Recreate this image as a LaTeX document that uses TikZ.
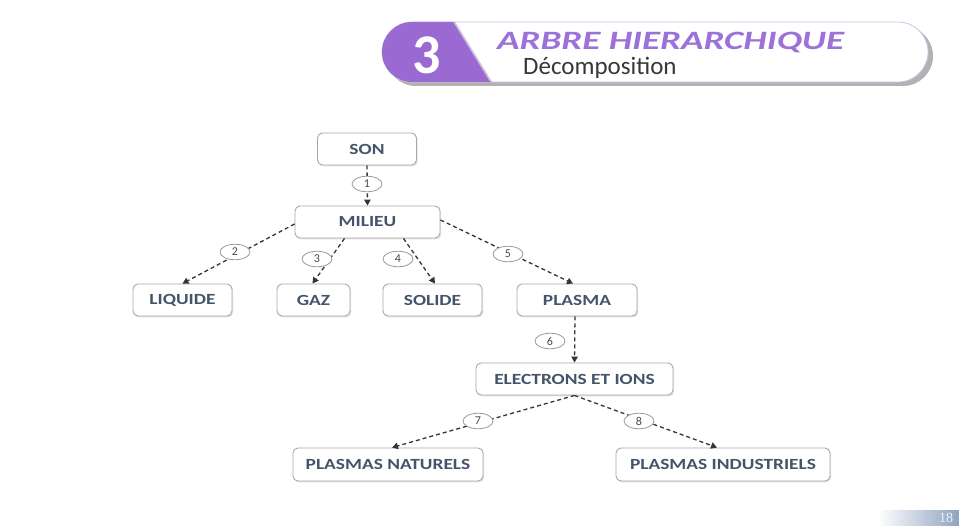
\documentclass[tikz,border=0pt]{standalone}
\usepackage{fontspec}
\setmainfont{Carlito}
\newfontfamily\pgnumfont{Liberation Serif}
\usetikzlibrary{arrows.meta,shapes.geometric,shadows,calc}
\definecolor{boxgray}{HTML}{A8A8A8}
\definecolor{txtblue}{HTML}{44546A}
\definecolor{lblgray}{HTML}{9A9A9A}
\definecolor{lbltext}{HTML}{4A4A4A}
\definecolor{arrgray}{HTML}{353535}
\definecolor{bannerpurple}{HTML}{9A6AD2}
\definecolor{titlepurple}{HTML}{9C72D8}
\definecolor{lavender}{HTML}{CFC3E6}
\definecolor{stripblue}{HTML}{8EA3C0}
\newcommand\wtxt[1]{\scalebox{1.25}[1]{#1}}
\tikzset{
  box/.style={draw=boxgray, line width=0.9pt, rounded corners=5pt, fill=white,
    minimum height=32pt, inner sep=0pt, text=txtblue,
    font=\fontsize{15.5}{18}\selectfont\bfseries,
    drop shadow={shadow xshift=1.2pt, shadow yshift=-1.5pt, opacity=0.22}},
  lbl/.style={ellipse, draw=lblgray, line width=0.8pt, fill=white,
    minimum width=30pt, minimum height=15.5pt, inner sep=0pt, text=lbltext,
    font=\fontsize{12}{12}\selectfont},
  arr/.style={draw=arrgray, line width=1.3pt, dash pattern=on 4pt off 3pt,
    -{Triangle[length=6pt,width=6.5pt]}},
}
\begin{document}
\begin{tikzpicture}[x=1pt,y=-1pt]
\useasboundingbox (0,0) rectangle (959,526);
\fill[white] (0,0) rectangle (959,526);

% ---- banner ----
\fill[black!30, rounded corners=30pt] (386,26) rectangle (933,86);
\filldraw[fill=white, draw=lavender, line width=0.8pt, rounded corners=30pt] (382,22) rectangle (928,82);
\begin{scope}
  \clip[rounded corners=30pt] (382,22) rectangle (928,82);
  \fill[bannerpurple] (370,15) -- (448.7,15) -- (494.9,90) -- (370,90) -- cycle;
  \draw[bannerpurple!70!black, opacity=0.35, line width=2pt] (449.7,15) -- (495.9,90);
\end{scope}
\node[text=white, inner sep=0pt, font=\fontsize{56}{58}\selectfont\bfseries] (num) at (427,55) {3};
\node[anchor=base west, inner sep=0pt, text=titlepurple,
  font=\fontsize{26.5}{28}\selectfont\bfseries\itshape] (title) at (497,50)
  {\scalebox{1.40}[1]{ARBRE HIERARCHIQUE}};
\node[anchor=base west, inner sep=0pt, text=black!78,
  font=\fontsize{25}{27}\selectfont] (sub) at (523,75) {Décomposition};

% ---- nodes ----
\node[box, minimum width=99pt]  (son)     at (367,149)   {\wtxt{SON}};
\node[box, minimum width=145pt] (milieu)  at (367.5,222) {\wtxt{MILIEU}};
\node[box, minimum width=99pt]  (liquide) at (182.5,300) {\wtxt{LIQUIDE}};
\node[box, minimum width=73pt]  (gaz)     at (313.5,300) {\wtxt{GAZ}};
\node[box, minimum width=99pt]  (solide)  at (432.5,300) {\wtxt{SOLIDE}};
\node[box, minimum width=120pt] (plasma)  at (577,300)   {\wtxt{PLASMA}};
\node[box, minimum width=197pt] (elec)    at (574.5,379) {\wtxt{ELECTRONS ET IONS}};
\node[box, minimum width=190pt, minimum height=33pt] (nat) at (388,464.5) {\wtxt{PLASMAS NATURELS}};
\node[box, minimum width=214pt, minimum height=33pt] (ind) at (723,464.5) {\wtxt{PLASMAS INDUSTRIELS}};

% ---- connectors ----
\draw[arr] (son.south) -- (milieu.north);
\draw[arr] ([yshift=-2pt]milieu.west) -- (liquide.north);
\draw[arr] ([xshift=-23pt]milieu.south) -- ([xshift=-1pt]gaz.north);
\draw[arr] ([xshift=36pt]milieu.south) -- ([xshift=2.5pt]solide.north);
\draw[arr] ([yshift=2pt]milieu.east) -- ([xshift=-4pt]plasma.north);
\draw[arr] ([xshift=-2pt]plasma.south) -- (elec.north);
\draw[arr] (elec.south) -- ([xshift=4pt]nat.north);
\draw[arr] (elec.south) -- ([xshift=-6pt]ind.north);

% ---- labels ----
\node[lbl] (l1) at (367,184) {1};
\node[lbl] (l2) at (235,252) {2};
\node[lbl] (l3) at (317,259) {3};
\node[lbl] (l4) at (398,259) {4};
\node[lbl] (l5) at (508,254) {5};
\node[lbl] (l6) at (550,341) {6};
\node[lbl] (l7) at (478,421) {7};
\node[lbl] (l8) at (639,421) {8};

% ---- page strip ----
\shade[left color=white, right color=stripblue] (878,510) rectangle (959,526);
\node[text=white!85!stripblue, inner sep=0pt, font=\pgnumfont\fontsize{14}{14}\selectfont] (pg) at (946,518) {18};
\end{tikzpicture}
\end{document}
